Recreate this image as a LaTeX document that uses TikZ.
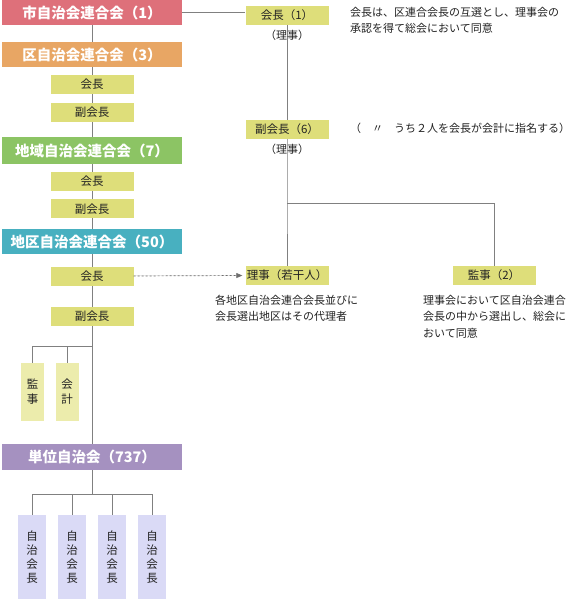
\documentclass[tikz,border=0pt]{standalone}
\usepackage{fontspec}
\setmainfont{Noto Sans CJK JP}
\usetikzlibrary{arrows.meta,backgrounds}
\definecolor{citypink}{RGB}{222,112,122}
\definecolor{wardorange}{RGB}{232,166,100}
\definecolor{areagreen}{RGB}{140,196,100}
\definecolor{distteal}{RGB}{72,176,192}
\definecolor{unitpurple}{RGB}{165,145,192}
\definecolor{roleyellow}{RGB}{222,222,122}
\definecolor{paleyellow}{RGB}{236,236,172}
\definecolor{lavender}{RGB}{218,218,246}
\definecolor{grayline}{RGB}{128,128,128}
\definecolor{textgray}{RGB}{35,35,35}
\tikzset{
  orgbox/.style={fill=#1, text=white, inner sep=0pt,
    minimum width=180, minimum height=25, font=\fontsize{14.5}{17}\selectfont\bfseries},
  rolebox/.style={fill=roleyellow, text=textgray, inner sep=0pt,
    minimum width=83, minimum height=19, font=\fontsize{11.5}{14}\selectfont},
  postbox/.style={fill=paleyellow, text=textgray, inner sep=0pt, align=center,
    minimum width=23, minimum height=58, font=\fontsize{11.5}{15}\selectfont},
  headbox/.style={fill=lavender, text=textgray, inner sep=0pt, align=center,
    minimum width=28, minimum height=84, font=\fontsize{11.5}{14}\selectfont},
  note/.style={text=textgray, align=left, inner sep=0pt,
    font=\fontsize{11}{16.5}\selectfont},
  line/.style={draw=grayline, line width=0.9pt},
  dotarrow/.style={-{Triangle[length=6pt,width=5pt]}, draw=grayline!85!black,
    fill=grayline!85!black, line width=0.7pt, dash pattern=on 2pt off 2pt}
}
\begin{document}
\begin{tikzpicture}[x=1pt,y=-1pt]
  \useasboundingbox (0,0) rectangle (570,601);

  % left column
  \node[orgbox=citypink] (city) at (92,12.5) {市自治会連合会（1）};
  \node[orgbox=wardorange] (ward) at (92,54.5) {区自治会連合会（3）};
  \node[rolebox] (wardchair) at (92,84.5) {会長};
  \node[rolebox] (wardvice) at (92,112.5) {副会長};
  \node[orgbox=areagreen, minimum height=27] (area) at (92,150.5) {地域自治会連合会（7）};
  \node[rolebox] (areachair) at (92,181.5) {会長};
  \node[rolebox] (areavice) at (92,209) {副会長};
  \node[orgbox=distteal] (dist) at (92,241.5) {地区自治会連合会（50）};
  \node[rolebox] (distchair) at (92,276) {会長};
  \node[rolebox] (distvice) at (92,316.5) {副会長};
  \node[postbox] (auditor) at (32.5,392) {監\\事};
  \node[postbox] (treasurer) at (67,392) {会\\計};
  \node[orgbox=unitpurple, minimum height=26] (unit) at (92,457) {単位自治会（737）};
  \foreach \i/\x in {1/32,2/72,3/112,4/152}
    \node[headbox] (head\i) at (\x,557) {自\\治\\会\\長};

  % right column
  \node[rolebox] (pres) at (287,15.5) {会長（1）};
  \node[note] (presnote) at (287,35) {（理事）};
  \node[rolebox] (vice) at (287,129.5) {副会長（6）};
  \node[note] (vicenote) at (287,149) {（理事）};
  \node[rolebox] (director) at (287,275.5) {理事（若干人）};
  \node[rolebox] (audit) at (494,275.5) {監事（2）};

  \node[note, anchor=west] (presrule) at (350,20.5) {会長は、区連合会長の互選とし、理事会の\\承認を得て総会において同意};
  \node[note, anchor=west] (vicerule) at (350,128) {（　〃　うち２人を会長が会計に指名する）};
  \node[note, anchor=west] (directorrule) at (215,308.5) {各地区自治会連合会長並びに\\会長選出地区はその代理者};
  \node[note, anchor=west] (auditrule) at (423,316.5) {理事会において区自治会連合\\会長の中から選出し、総会に\\おいて同意};

  \coordinate (postbranch) at (92,346);
  \coordinate (headbranch) at (92,494);
  \coordinate (rightbranch) at (287,203);

  \begin{pgfonlayer}{background}
    \fill[white] (0,0) rectangle (570,601);
    \draw[line] (city.south) -- (unit.north);
    \draw[line] (auditor.north) |- (postbranch);
    \draw[line] (treasurer.north) -- (treasurer.north |- postbranch);
    \draw[line] (unit.south) -- (headbranch);
    \draw[line] (head1.north) |- (head4.north |- headbranch) -- (head4.north);
    \foreach \i in {2,3}
      \draw[line] (head\i.north) -- (head\i.north |- headbranch);
    \draw[line] (city.east) -- (city.east -| pres.west);
    \draw[line] (pres.south) -- (vice.north);
    \draw[line] (vice.south) -- (rightbranch) -- (director.north);
    \draw[line] (rightbranch) -| (audit.north);
  \end{pgfonlayer}
  \draw[dotarrow] (distchair.east) -- ([xshift=-3pt]director.west);
\end{tikzpicture}
\end{document}
